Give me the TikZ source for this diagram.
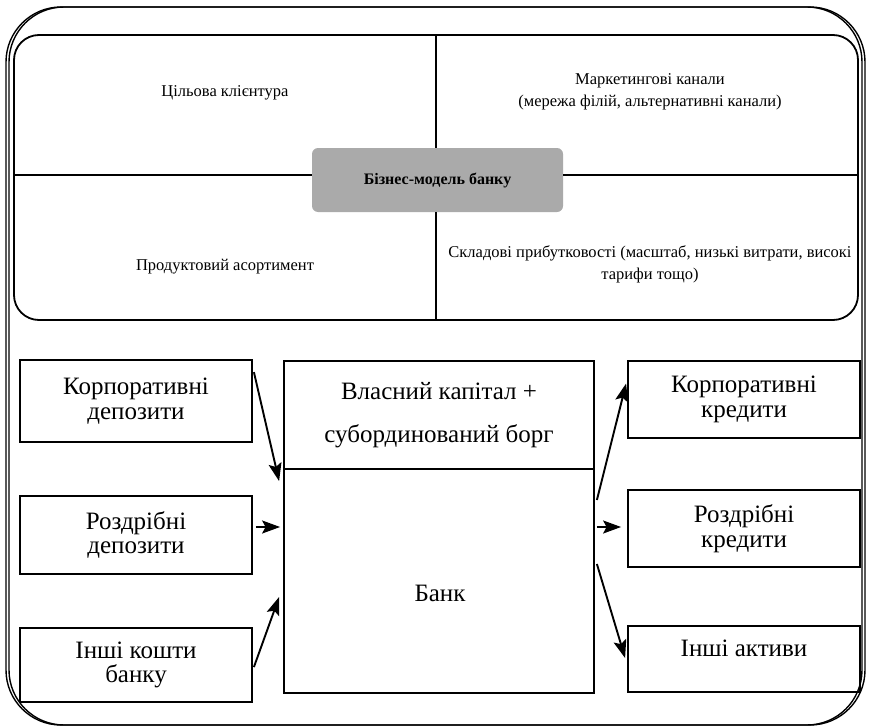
\documentclass[tikz,border=0pt]{standalone}
\usepackage{fontspec}
\setmainfont{Liberation Serif}
\usetikzlibrary{arrows.meta,calc}
\begin{document}
\begin{tikzpicture}[x=1pt,y=-1pt,
  frame/.style={draw, line width=1.4pt, rounded corners=55pt, minimum width=856pt, minimum height=718pt, inner sep=0pt},
  boxst/.style={draw, line width=1.8pt, inner sep=0pt, align=center, font=\fontsize{25}{24.5}\selectfont},
  small/.style={inner sep=0pt, align=center, font=\fontsize{16.5}{22}\selectfont},
  arr/.style={line width=1.9pt, -{Stealth[length=18pt,width=13pt,inset=3.5pt]}}]
\useasboundingbox (0,0) rectangle (870,728);
% outer frame
\node[frame] (frameA) at (434,366) {};
\node[frame] (frameB) at (437,366) {};
% top panel
\node[draw, line width=1.8pt, rounded corners=25pt, minimum width=844pt, minimum height=285pt, inner sep=0pt] (panel) at (436,177.5) {};
\node[fill={rgb,255:red,170;green,170;blue,170}, rounded corners=6pt, minimum width=251pt, minimum height=64pt, inner sep=0pt, font=\fontsize{16}{18}\selectfont\bfseries] (core) at (437.5,180) {Бізнес-модель банку};
\coordinate (hy) at (0,175);
\draw[line width=1.8pt] (panel.north) -- (panel.north |- core.north);
\draw[line width=1.8pt] (panel.south |- core.south) -- (panel.south);
\draw[line width=1.8pt] (panel.west |- hy) -- (core.west |- hy);
\draw[line width=1.8pt] (core.east |- hy) -- (panel.east |- hy);
\node[small] (q1) at (225,93) {Цільова клієнтура};
\node[small] (q2) at (650,92) {Маркетингові канали\\(мережа філій, альтернативні канали)};
\node[small] (q3) at (225,267) {Продуктовий асортимент};
\node[small] (q4) at (650,264) {Складові прибутковості (масштаб, низькі витрати, високі\\тарифи тощо)};
% left boxes
\node[boxst, minimum width=232pt, minimum height=82pt] (l1) at (136,401) {Корпоративні\\депозити};
\node[boxst, minimum width=232pt, minimum height=78pt] (l2) at (136,535) {Роздрібні\\депозити};
\node[boxst, minimum width=232pt, minimum height=74pt] (l3) at (136,665) {Інші кошти\\банку};
% bank
\node[boxst, minimum width=310pt, minimum height=108pt, font=\fontsize{25}{43}\selectfont] (cap) at (439,415) {Власний капітал +\\субординований борг};
\node[boxst, minimum width=310pt, minimum height=224pt] (bank) at (439,581) {};
\node[inner sep=0pt, font=\fontsize{25}{24}\selectfont] (banklbl) at (440,593) {Банк};
% right boxes
\node[boxst, minimum width=232pt, minimum height=77pt] (r1) at (744,399.5) {Корпоративні\\кредити};
\node[boxst, minimum width=232pt, minimum height=77pt] (r2) at (744,528.5) {Роздрібні\\кредити};
\node[boxst, minimum width=232pt, minimum height=66pt, text depth=22pt] (r3) at (744,659) {Інші активи};
% arrows
\draw[arr] ($(l1.north east)+(1,13)$) -- ($(cap.north west)+(-4,121)$);
\draw[arr] ($(l2.east)+(3,-8)$) -- ($(bank.west)+(-3,-54)$);
\draw[arr] ($(l3.north east)+(1,40)$) -- ($(bank.west)+(-4,16)$);
\draw[arr] ($(bank.east)+(2,-81)$) -- ($(r1.west)+(-1,-16)$);
\draw[arr] ($(bank.east)+(2,-54)$) -- ($(r2.west)+(-6,-1.5)$);
\draw[arr] ($(bank.east)+(2,-17)$) -- ($(r3.west)+(-2,-1)$);
\end{tikzpicture}
\end{document}
